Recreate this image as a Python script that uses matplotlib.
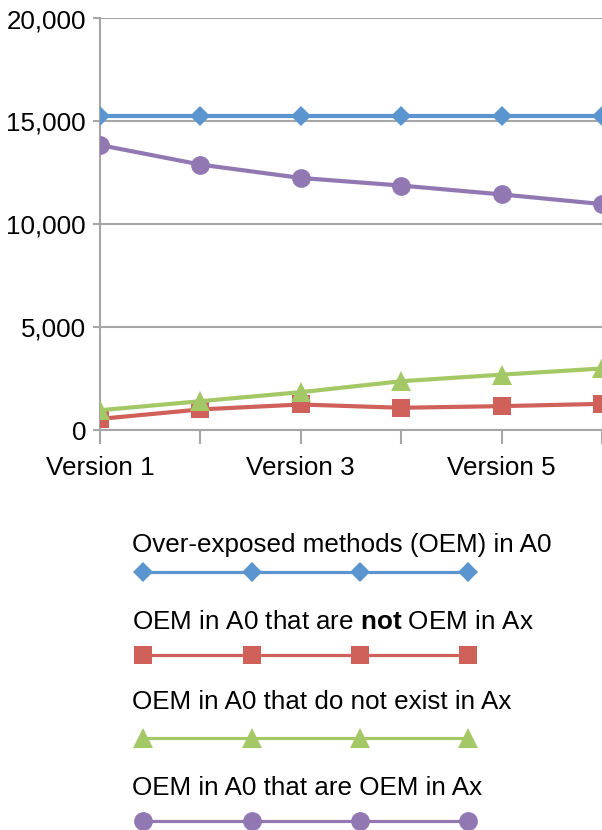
import matplotlib
matplotlib.use("Agg")
import matplotlib.pyplot as plt
from matplotlib.ticker import FuncFormatter

plt.rcParams['font.family'] = ['Liberation Sans', 'DejaVu Sans']
plt.rcParams['mathtext.fontset'] = 'custom'
plt.rcParams['mathtext.rm'] = 'Liberation Sans'
plt.rcParams['mathtext.bf'] = 'Liberation Sans:bold'

versions = [1, 2, 3, 4, 5, 6]
tick_labels = ["Version 1", "", "Version 3", "", "Version 5", ""]

oem_a0 = [15250, 15250, 15250, 15250, 15250, 15250]
oem_not_oem_ax = [540, 1000, 1240, 1080, 1160, 1270]
oem_not_exist_ax = [960, 1400, 1840, 2370, 2690, 2990]
oem_oem_ax = [13850, 12900, 12250, 11880, 11450, 10980]

names = ["Over-exposed methods (OEM) in A0",
         r"OEM in A0 that are $\mathbf{not}$ OEM in Ax",
         "OEM in A0 that do not exist in Ax",
         "OEM in A0 that are OEM in Ax"]
colors = ["#5B95CF", "#D0605A", "#A5C866", "#9178B3"]
markers = ["D", "s", "^", "o"]
msizes = [10, 13.5, 14, 13.5]
series = [oem_a0, oem_not_oem_ax, oem_not_exist_ax, oem_oem_ax]

W, H = 602, 830
fs = 18.7
fig = plt.figure(figsize=(W / 100, H / 100), dpi=100)
ax = fig.add_axes([100 / W, (H - 430) / H, (602 - 100) / W, (430 - 18.5) / H])

grid_c = "#A6A6A6"
for s, c, m, ms in zip(series, colors, markers, msizes):
    ax.plot(versions, s, color=c, lw=3, marker=m, markersize=ms,
            markeredgewidth=0, zorder=3)

ax.set_xlim(1, 6)
ax.set_ylim(0, 20000)
ax.set_yticks([0, 5000, 10000, 15000, 20000])
ax.yaxis.set_major_formatter(FuncFormatter(lambda v, p: f"{int(v):,}"))
ax.set_xticks(versions)
ax.set_xticklabels(tick_labels)
ax.grid(axis='y', color=grid_c, lw=1.5, zorder=1)
ax.set_axisbelow(True)
for sp in ["top", "right"]:
    ax.spines[sp].set_visible(False)
for sp in ["left", "bottom"]:
    ax.spines[sp].set_color(grid_c)
    ax.spines[sp].set_linewidth(1.5)
ax.tick_params(axis='y', length=5, width=1.5, color=grid_c, labelsize=fs, pad=5)
ax.tick_params(axis='x', length=10, width=1.5, color=grid_c, labelsize=fs, pad=9)

# Legend drawn in pixel coordinates
lax = fig.add_axes([0, 0, 1, 1], facecolor='none')
lax.set_xlim(0, W)
lax.set_ylim(H, 0)
lax.axis('off')
text_y = [545, 622, 702, 788]
line_y = [572, 655, 738, 821]
mx = [143, 252, 360, 468]
for n, c, m, ms, ty, ly in zip(names, colors, markers, msizes, text_y, line_y):
    lax.text(132, ty, n, fontsize=fs, va='center', ha='left')
    lax.plot(mx, [ly] * len(mx), color=c, lw=2.3, marker=m, markersize=ms,
             markeredgewidth=0, clip_on=False)

fig.savefig("out.png", dpi=100)
